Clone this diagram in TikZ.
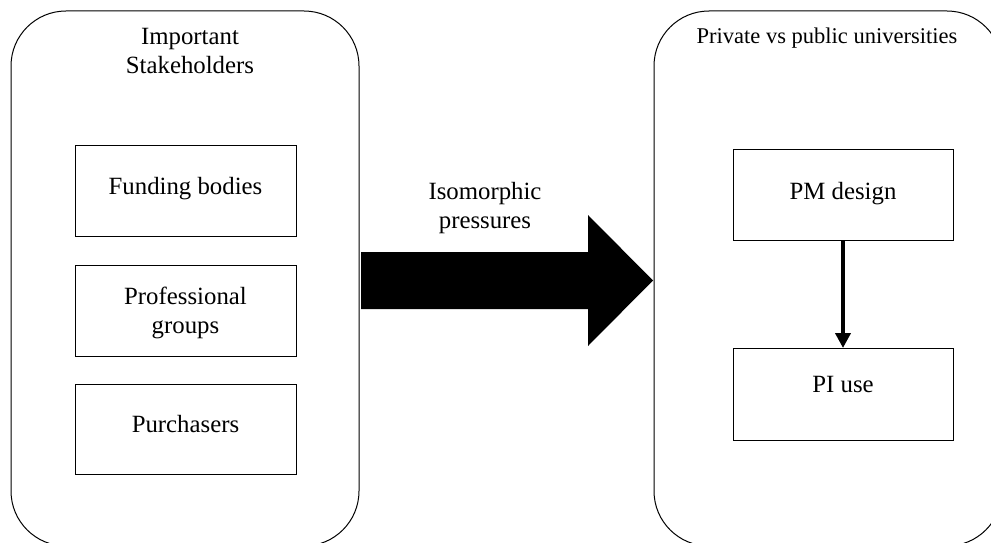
\documentclass[tikz,border=0pt]{standalone}
\usepackage{fontspec}
\setmainfont{Liberation Serif}
\usetikzlibrary{arrows.meta}
\begin{document}
\begin{tikzpicture}[x=1pt,y=-1pt,
  outer/.style={draw=black,line width=1pt,rounded corners=55pt},
  inner/.style={draw=black,line width=1pt},
  lbl/.style={font=\fontsize{24.8}{29.5}\selectfont,align=center,inner sep=0pt},
  small/.style={font=\fontsize{22.5}{27}\selectfont,align=center,inner sep=0pt}]
\useasboundingbox (0,0) rectangle (991,543);
\clip (0,0) rectangle (991,543);
\fill[white] (0,0) rectangle (991,543);
% outer containers
\draw[outer] (11,11) rectangle (359,546);
\draw[outer] (654,11) rectangle (1002,546);
\node[lbl] (stake) at (190,51) {Important\\Stakeholders};
\node[small] (uni) at (827,38) {Private vs public universities};
% left boxes
\draw[inner] (75,145) rectangle (296,236);
\node[lbl] (fund) at (185.5,189) {Funding bodies};
\draw[inner] (75,265) rectangle (296,356);
\node[lbl] (prof) at (185.5,313) {Professional\\groups};
\draw[inner] (75,384) rectangle (296,474);
\node[lbl] (purch) at (185.5,424) {Purchasers};
% right boxes
\node[inner,minimum width=220pt,minimum height=91pt,inner sep=0pt] (pmbox) at (843,194.5) {};
\node[lbl] (pm) at (843,194) {PM design};
\node[inner,minimum width=220pt,minimum height=92pt,inner sep=0pt] (pibox) at (843,394) {};
\node[lbl] (pi) at (843,384) {PI use};
\draw[line width=4pt,-{Triangle[width=15pt,length=15pt]},shorten >=-0.5pt] (pmbox.south) -- (pibox.north);
% big arrow
\coordinate (a1) at (361,252);
\coordinate (a2) at (588,252);
\coordinate (a3) at (588,215);
\coordinate (a4) at (653,280.5);
\coordinate (a5) at (588,346);
\coordinate (a6) at (588,309);
\coordinate (a7) at (361,309);
\fill[black] (a1) -- (a2) -- (a3) -- (a4) -- (a5) -- (a6) -- (a7) -- cycle;
\node[lbl] (iso) at (485,208) {Isomorphic\\pressures};
\end{tikzpicture}
\end{document}
